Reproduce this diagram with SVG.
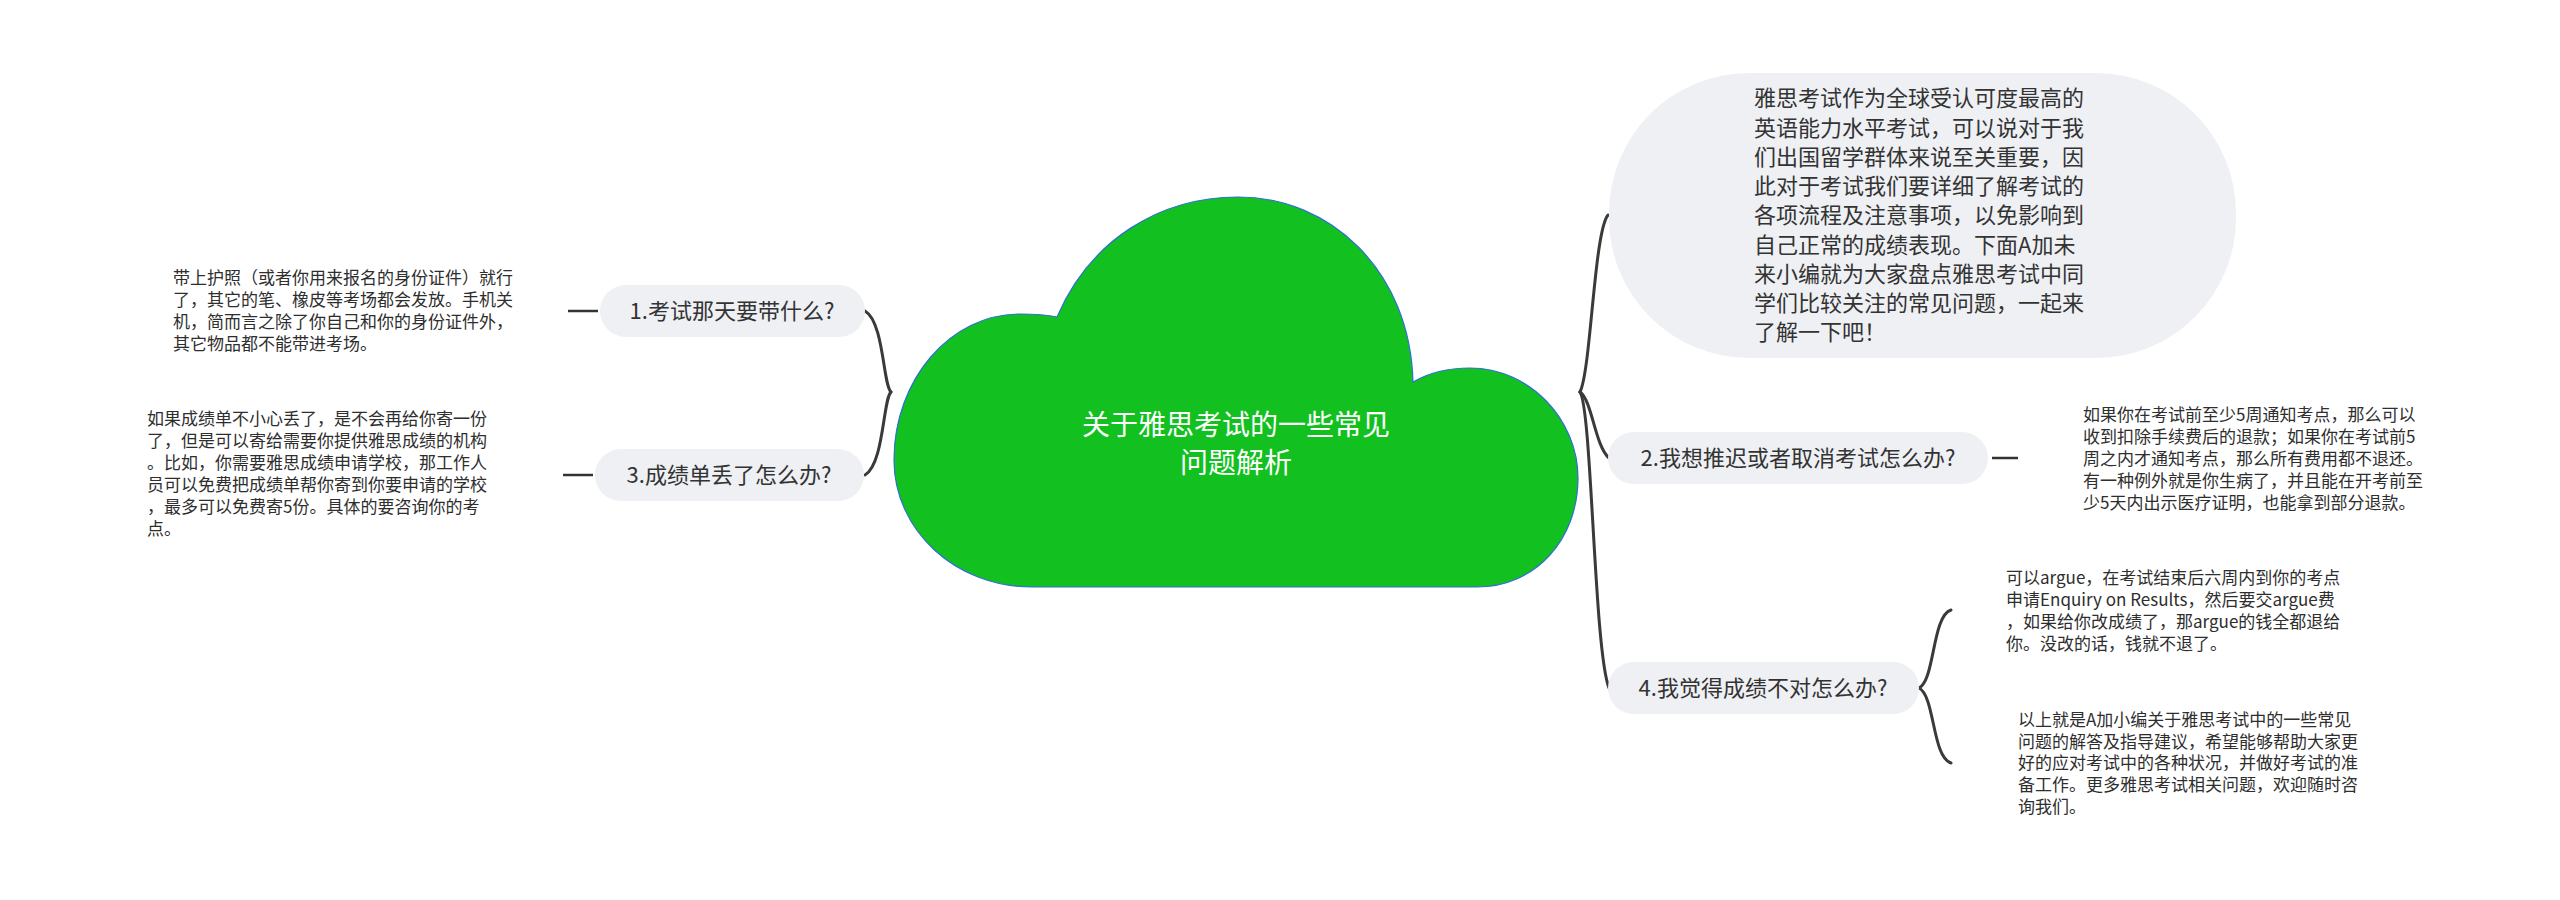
<svg xmlns="http://www.w3.org/2000/svg" width="2560" height="900" viewBox="0 0 2560 900">
<style>
.pill{fill:#eef0f3;}
.ntext{font-family:'Noto Sans CJK SC','Noto Sans',sans-serif;font-size:22px;fill:#333333;}
.dtext{font-family:'Noto Sans CJK SC','Noto Sans',sans-serif;font-size:17px;fill:#2e2e2e;}
.title{font-family:'Noto Sans CJK SC','Noto Sans',sans-serif;font-size:28px;fill:#ffffff;}
.conn{fill:none;stroke:#3a3a3a;stroke-width:3;stroke-linecap:round;}
.dash{fill:none;stroke:#333333;stroke-width:2.5;}
</style>
<rect width="2560" height="900" fill="#ffffff"/>
<g id="connectors">
<path class="conn" d="M 891 392 C 883 385, 884 322, 865 311"/>
<path class="conn" d="M 891 392 C 883 399, 884 464, 865 475"/>
<path class="conn" d="M 1580 392 C 1591 370, 1594 232, 1608 215"/>
<path class="conn" d="M 1580 392 C 1592 400, 1595 446, 1609 458"/>
<path class="conn" d="M 1580 392 C 1592 410, 1594 650, 1609 688"/>
<path class="conn" d="M 1919 688 C 1935 680, 1932 616, 1951 610"/>
<path class="conn" d="M 1919 688 C 1935 696, 1932 757, 1951 763"/>
<line class="dash" x1="568" y1="311" x2="598" y2="311"/>
<line class="dash" x1="563" y1="475" x2="593" y2="475"/>
<line class="dash" x1="1992" y1="458" x2="2018" y2="458"/>
</g>
<g id="root">
<path d="M 1032 587 C 955 587, 894 530, 894 460 C 894 380, 950 314, 1020 314 C 1035 314, 1048 315, 1057 317 C 1090 240, 1160 197, 1238 197 C 1330 197, 1410 270, 1413 382 C 1430 372, 1450 368, 1470 368 C 1530 368, 1578 420, 1578 478 C 1578 540, 1535 587, 1477 587 Z" fill="#12c020" stroke="#2f6fd6" stroke-width="1.2"/>
<text class="title" x="1236" y="435" text-anchor="middle">关于雅思考试的一些常见</text>
<text class="title" x="1236" y="473" text-anchor="middle">问题解析</text>
</g>
<g id="intro">
<rect class="pill" x="1609" y="73" width="627" height="285" rx="140" ry="140"/>
<text class="ntext" x="1754"><tspan x="1754" y="106">雅思考试作为全球受认可度最高的</tspan><tspan x="1754" y="136">英语能力水平考试，可以说对于我</tspan><tspan x="1754" y="165">们出国留学群体来说至关重要，因</tspan><tspan x="1754" y="194">此对于考试我们要详细了解考试的</tspan><tspan x="1754" y="223">各项流程及注意事项，以免影响到</tspan><tspan x="1754" y="253">自己正常的成绩表现。下面A加未</tspan><tspan x="1754" y="282">来小编就为大家盘点雅思考试中同</tspan><tspan x="1754" y="311">学们比较关注的常见问题，一起来</tspan><tspan x="1754" y="340">了解一下吧！</tspan></text>
</g>
<g id="node1">
<rect class="pill" x="600" y="285" width="265" height="52" rx="26" ry="26"/>
<text class="ntext" x="732" y="319" text-anchor="middle">1.考试那天要带什么?</text>
</g>
<g id="detail1">
<text class="dtext"><tspan x="173" y="284">带上护照（或者你用来报名的身份证件）就行</tspan><tspan x="173" y="306">了，其它的笔、橡皮等考场都会发放。手机关</tspan><tspan x="173" y="328">机，简而言之除了你自己和你的身份证件外，</tspan><tspan x="173" y="350">其它物品都不能带进考场。</tspan></text>
</g>
<g id="node3">
<rect class="pill" x="595" y="449" width="269" height="52" rx="26" ry="26"/>
<text class="ntext" x="729" y="483" text-anchor="middle">3.成绩单丢了怎么办?</text>
</g>
<g id="detail3">
<text class="dtext"><tspan x="147" y="425">如果成绩单不小心丢了，是不会再给你寄一份</tspan><tspan x="147" y="447">了，但是可以寄给需要你提供雅思成绩的机构</tspan><tspan x="147" y="469">。比如，你需要雅思成绩申请学校，那工作人</tspan><tspan x="147" y="491">员可以免费把成绩单帮你寄到你要申请的学校</tspan><tspan x="147" y="513">，最多可以免费寄5份。具体的要咨询你的考</tspan><tspan x="147" y="535">点。</tspan></text>
</g>
<g id="node2">
<rect class="pill" x="1608" y="432" width="380" height="52" rx="26" ry="26"/>
<text class="ntext" x="1798" y="466" text-anchor="middle">2.我想推迟或者取消考试怎么办?</text>
</g>
<g id="detail2">
<text class="dtext"><tspan x="2083" y="421">如果你在考试前至少5周通知考点，那么可以</tspan><tspan x="2083" y="443">收到扣除手续费后的退款；如果你在考试前5</tspan><tspan x="2083" y="465">周之内才通知考点，那么所有费用都不退还。</tspan><tspan x="2083" y="487">有一种例外就是你生病了，并且能在开考前至</tspan><tspan x="2083" y="509">少5天内出示医疗证明，也能拿到部分退款。</tspan></text>
</g>
<g id="node4">
<rect class="pill" x="1608" y="662" width="311" height="52" rx="26" ry="26"/>
<text class="ntext" x="1763" y="696" text-anchor="middle">4.我觉得成绩不对怎么办?</text>
</g>
<g id="detail4a">
<text class="dtext"><tspan x="2006" y="584">可以argue，在考试结束后六周内到你的考点</tspan><tspan x="2006" y="606">申请Enquiry on Results，然后要交argue费</tspan><tspan x="2006" y="628">，如果给你改成绩了，那argue的钱全都退给</tspan><tspan x="2006" y="650">你。没改的话，钱就不退了。</tspan></text>
</g>
<g id="detail4b">
<text class="dtext"><tspan x="2018" y="726">以上就是A加小编关于雅思考试中的一些常见</tspan><tspan x="2018" y="748">问题的解答及指导建议，希望能够帮助大家更</tspan><tspan x="2018" y="769">好的应对考试中的各种状况，并做好考试的准</tspan><tspan x="2018" y="791">备工作。更多雅思考试相关问题，欢迎随时咨</tspan><tspan x="2018" y="813">询我们。</tspan></text>
</g>
</svg>
